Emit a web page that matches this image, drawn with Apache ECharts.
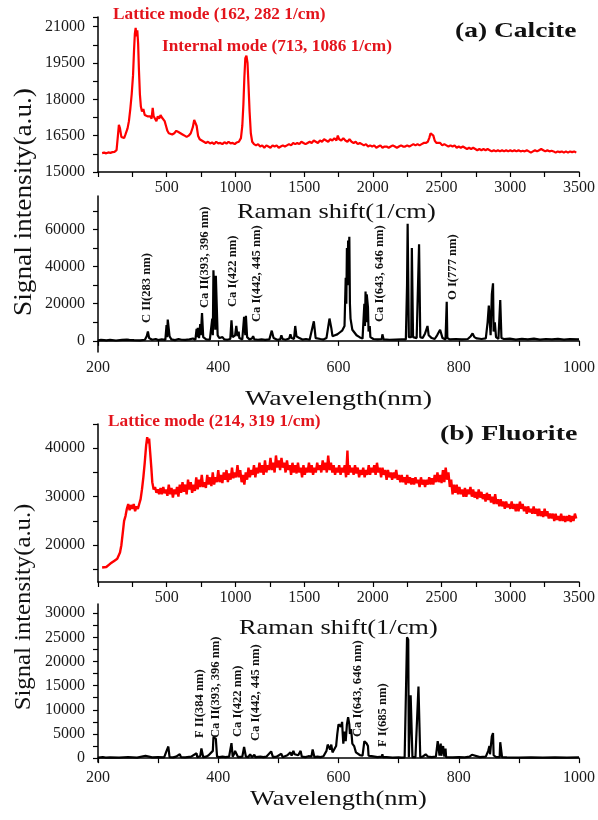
<!DOCTYPE html>
<html><head><meta charset="utf-8">
<script src="https://cdn.jsdelivr.net/npm/echarts@6/dist/echarts.min.js"></script>
<style>html,body{margin:0;padding:0;background:#fff}#c{width:598px;height:820px}</style>
</head><body><div id="c"></div>
<script>
// ---- Data ----
const calciteRaman = [[30,15780],[45,15800],[60,15770],[75,15810],[90,15790],[105,15820],[120,15830],[135,15900],[145,16500],[152,16950],[160,16800],[170,16450],[180,16500],[190,16400],[200,16550],[215,16800],[225,17100],[235,17600],[245,18200],[255,19000],[262,20000],[268,20700],[274,20950],[280,20600],[286,20850],[292,20300],[298,19200],[305,18200],[312,17700],[320,17500],[330,17600],[340,17350],[350,17400],[360,17300],[370,17250],[380,17300],[390,17200],[398,17650],[405,17300],[415,17250],[425,17100],[435,17300],[445,17200],[455,17350],[465,17250],[475,17300],[485,17100],[495,16900],[505,16700],[515,16600],[525,16650],[540,16550],[555,16600],[570,16700],[585,16650],[600,16600],[615,16550],[630,16500],[645,16450],[660,16500],[675,16600],[690,16850],[700,17150],[710,17200],[718,16900],[728,16500],[740,16350],[755,16300],[770,16250],[785,16200],[800,16250],[815,16180],[830,16220],[845,16150],[860,16250],[875,16180],[890,16200],[905,16150],[920,16230],[935,16170],[950,16250],[965,16180],[980,16200],[995,16150],[1010,16220],[1025,16250],[1040,16400],[1050,16900],[1058,17800],[1065,18900],[1072,19700],[1080,19800],[1088,19500],[1095,18600],[1103,17500],[1112,16600],[1122,16250],[1135,16150],[1150,16100],[1165,16150],[1180,16050],[1195,16100],[1210,16000],[1225,16100],[1240,16050],[1255,16000],[1270,16100],[1285,16050],[1300,16100],[1315,16000],[1330,16050],[1345,16100],[1360,16050],[1375,16100],[1390,16150],[1405,16100],[1420,16200],[1435,16150],[1450,16200],[1465,16150],[1480,16250],[1495,16200],[1510,16150],[1525,16200],[1540,16250],[1555,16200],[1570,16300],[1585,16250],[1600,16200],[1615,16300],[1630,16250],[1645,16350],[1660,16300],[1675,16250],[1690,16350],[1705,16300],[1720,16400],[1735,16300],[1745,16500],[1755,16350],[1770,16300],[1785,16400],[1800,16300],[1815,16250],[1830,16350],[1845,16250],[1860,16200],[1875,16250],[1890,16150],[1905,16200],[1920,16150],[1935,16100],[1950,16150],[1965,16050],[1980,16100],[1995,16050],[2010,16100],[2025,16000],[2040,16050],[2055,16100],[2070,16000],[2085,16050],[2100,16050],[2115,16000],[2130,16050],[2145,16100],[2160,16050],[2175,16000],[2190,16050],[2205,16100],[2220,16050],[2235,16050],[2250,16100],[2265,16050],[2280,16100],[2295,16150],[2310,16100],[2325,16150],[2340,16100],[2355,16150],[2370,16200],[2385,16200],[2400,16250],[2410,16400],[2420,16600],[2430,16650],[2440,16500],[2450,16300],[2462,16200],[2475,16150],[2490,16200],[2505,16100],[2520,16150],[2535,16100],[2550,16050],[2565,16100],[2580,16050],[2595,16100],[2610,16000],[2625,16050],[2640,16000],[2655,16050],[2670,16000],[2685,15950],[2700,16000],[2715,15950],[2730,16000],[2745,15950],[2760,15900],[2775,15950],[2790,15900],[2805,15950],[2820,15900],[2835,15950],[2850,15900],[2865,15850],[2880,15900],[2895,15850],[2910,15900],[2925,15850],[2940,15900],[2955,15850],[2970,15900],[2985,15850],[3000,15900],[3015,15850],[3030,15900],[3045,15850],[3060,15900],[3075,15850],[3090,15880],[3105,15850],[3120,15900],[3135,15850],[3150,15800],[3165,15850],[3180,15900],[3195,15850],[3210,15900],[3225,15950],[3240,15900],[3255,15850],[3270,15900],[3285,15850],[3300,15880],[3315,15850],[3330,15800],[3345,15850],[3360,15820],[3375,15850],[3390,15800],[3405,15850],[3420,15800],[3435,15850],[3450,15820],[3465,15850],[3480,15800]];

const calciteLibs = [[200,300],[205,500],[210,400],[212,1000],[214,300],[220,500],[230,200],[240,500],[248,700],[250,1000],[252,500],[260,400],[270,300],[278,600],[281,2500],[283,5000],[285,1500],[288,2000],[290,600],[296,1000],[298,1500],[300,400],[306,800],[312,500],[314,8500],[315,2000],[316,11500],[317,12000],[319,2500],[322,800],[328,400],[334,1000],[337,2000],[339,600],[345,500],[352,800],[358,1300],[362,600],[364,6500],[365,2000],[366,7000],[368,1500],[370,9000],[371,3000],[373,15000],[374,14500],[375,2000],[380,800],[386,700],[390,12000],[391,3000],[392,38000],[394,37000],[395,6000],[396,35000],[398,34500],[399,3000],[402,1500],[405,2500],[407,2000],[410,800],[415,600],[420,1000],[422,11000],[423,10500],[424,2000],[428,3000],[430,8000],[431,7500],[432,2500],[434,5000],[435,1500],[440,800],[443,13000],[444,12500],[445,3000],[446,13500],[448,2000],[452,800],[456,1300],[458,2500],[460,800],[466,600],[472,800],[478,500],[485,800],[489,5500],[490,5000],[492,1500],[498,600],[503,800],[505,3000],[507,1000],[512,600],[518,1300],[520,3500],[522,1500],[526,1000],[528,8000],[530,2500],[533,3500],[535,1500],[537,2000],[540,700],[546,1000],[552,600],[553,1500],[555,500],[559,10500],[560,11000],[562,1500],[565,800],[570,1000],[575,700],[580,1500],[585,12000],[586,11000],[588,7000],[590,2500],[594,3000],[598,3500],[602,4500],[606,5500],[610,8000],[612,34000],[613,20000],[614,50000],[615,30000],[616,54000],[617,40000],[618,56000],[619,20000],[620,12000],[623,6000],[626,5000],[630,3000],[635,2000],[640,1200],[643,20000],[644,8000],[645,26500],[646,10000],[647,25000],[649,18000],[650,5000],[652,8000],[653,2000],[658,1000],[665,800],[672,1000],[673,3500],[675,800],[685,600],[695,700],[705,800],[712,800],[714,30000],[715,63000],[716,64000],[717,2000],[721,2000],[722,50000],[723,51000],[724,2000],[730,1500],[734,52000],[735,53000],[736,2000],[740,1500],[744,4000],[746,6000],[748,8000],[750,3000],[755,1500],[760,1000],[764,3000],[766,2000],[769,6000],[771,5500],[773,1500],[778,800],[780,21000],[781,1500],[785,800],[795,1000],[805,800],[815,1000],[820,2500],[823,4000],[826,2000],[830,1300],[838,1000],[845,1300],[848,10000],[850,19000],[852,18000],[853,3000],[855,25000],[857,31000],[858,5000],[860,10000],[862,2000],[866,1000],[869,22000],[870,22500],[871,1500],[875,1000],[885,1200],[895,700],[905,1100],[915,800],[925,1200],[935,700],[945,1000],[955,800],[965,1100],[975,700],[985,900],[1000,800]];

const fluoriteRaman = [[30,15400],[60,15500],[90,16200],[120,16800],[140,17200],[160,18500],[170,20000],[180,22500],[190,25000],[200,26000],[210,27500],[220,28500],[230,27200],[240,28300],[250,27500],[260,28500],[270,27000],[280,28000],[290,27500],[300,28500],[310,29500],[320,31500],[330,34000],[340,37000],[350,40500],[358,42300],[365,41000],[372,42000],[380,39000],[388,36000],[395,33000],[405,31500],[415,32000],[425,30800],[435,31500],[445,30500],[455,31800],[465,30500],[475,32000],[485,30700],[495,31500],[505,30200],[515,32500],[525,30500],[535,31800],[545,29800],[555,31500],[565,30500],[575,32000],[585,30000],[595,32500],[605,30800],[615,33000],[625,31000],[635,32500],[645,30500],[655,33500],[665,31500],[675,33000],[685,30800],[695,32500],[705,31200],[715,34000],[725,31500],[735,33500],[745,32000],[755,34500],[765,32000],[775,33000],[785,31800],[795,34500],[805,32500],[815,34000],[825,32200],[835,35000],[845,32500],[855,34000],[865,33000],[875,35500],[885,33000],[895,34500],[905,32800],[915,35000],[925,33500],[935,35500],[945,33000],[955,34800],[965,33500],[975,36000],[985,33800],[995,35000],[1005,34000],[1015,36500],[1025,34000],[1035,35500],[1045,33000],[1055,34500],[1065,32500],[1075,35000],[1085,33500],[1095,36000],[1105,34000],[1115,35500],[1125,34500],[1135,36500],[1145,34000],[1155,36000],[1165,34800],[1175,37000],[1185,35000],[1195,36500],[1205,34500],[1215,37500],[1225,35000],[1235,36500],[1245,35500],[1255,38000],[1265,35500],[1275,37000],[1285,35000],[1295,38500],[1305,36000],[1315,37500],[1325,35500],[1335,38000],[1345,36000],[1355,37000],[1365,35000],[1375,37500],[1385,35500],[1395,36500],[1405,34500],[1415,37000],[1425,35000],[1435,36500],[1445,34800],[1455,37000],[1465,35000],[1475,36000],[1485,34000],[1495,36500],[1505,34500],[1515,36000],[1525,35000],[1535,37000],[1545,35000],[1555,36500],[1565,34500],[1575,36000],[1585,35000],[1595,37000],[1605,35500],[1615,36500],[1625,35000],[1635,37500],[1645,35500],[1655,37000],[1665,35000],[1675,38500],[1685,35500],[1695,37000],[1705,35000],[1715,36500],[1725,34500],[1735,36000],[1745,35000],[1755,36500],[1765,34500],[1775,36000],[1785,35000],[1795,36500],[1805,34000],[1815,39500],[1822,34500],[1830,36500],[1840,35000],[1850,36000],[1860,34500],[1870,36500],[1880,34800],[1890,36000],[1900,34000],[1910,35500],[1920,34500],[1930,36000],[1940,34000],[1950,35500],[1960,34500],[1970,36500],[1980,34500],[1990,36000],[2000,35000],[2010,36500],[2020,34500],[2030,37000],[2040,35000],[2050,36000],[2060,34000],[2070,36000],[2080,34500],[2090,35500],[2100,33500],[2110,35500],[2120,34000],[2130,35000],[2140,33500],[2150,35000],[2160,33800],[2170,35500],[2180,33500],[2190,34500],[2200,33000],[2210,34500],[2220,33000],[2230,34000],[2240,32500],[2250,34500],[2260,32800],[2270,34000],[2280,32500],[2290,33800],[2300,32500],[2310,34000],[2320,32800],[2330,33500],[2340,32000],[2350,34000],[2360,32500],[2370,33500],[2380,32000],[2390,33500],[2400,32500],[2410,34000],[2420,32500],[2430,33800],[2440,32500],[2450,34500],[2460,33000],[2470,35000],[2480,33000],[2490,34500],[2500,32800],[2510,35500],[2520,33000],[2530,36000],[2540,33500],[2550,35000],[2560,32000],[2570,33500],[2580,30500],[2590,32500],[2600,30800],[2610,32500],[2620,30500],[2630,32000],[2640,30500],[2650,31500],[2660,30000],[2670,31800],[2680,30000],[2690,31500],[2700,30500],[2710,32000],[2720,30000],[2730,31500],[2740,29800],[2750,31000],[2760,29500],[2770,31500],[2780,29800],[2790,31000],[2800,29500],[2810,30500],[2820,29000],[2830,30800],[2840,29300],[2850,30500],[2860,28800],[2870,30000],[2880,28500],[2890,30500],[2900,28500],[2910,29500],[2920,28000],[2930,29500],[2940,28000],[2950,29000],[2960,27500],[2970,29000],[2980,27800],[2990,28500],[3000,27500],[3010,29000],[3020,27500],[3030,28500],[3040,27000],[3050,28500],[3060,27000],[3070,29000],[3080,27500],[3090,28500],[3100,27000],[3110,28000],[3120,26500],[3130,28000],[3140,26800],[3150,27500],[3160,26500],[3170,28000],[3180,26500],[3190,27500],[3200,26000],[3210,27500],[3220,26000],[3230,27000],[3240,25800],[3250,27500],[3260,26000],[3270,27000],[3280,25500],[3290,26500],[3300,25500],[3310,26500],[3320,25000],[3330,26500],[3340,25200],[3350,26000],[3360,25000],[3370,26500],[3380,25000],[3390,26000],[3400,24800],[3410,26000],[3420,25000],[3430,26200],[3440,24800],[3450,26000],[3460,25000],[3470,26500],[3480,25500]];

const fluoriteLibs = [[200,100],[208,200],[211,600],[213,100],[220,150],[235,100],[250,200],[265,100],[279,500],[281,100],[290,150],[300,200],[310,150],[315,1800],[317,2400],[318,2000],[319,200],[325,150],[330,300],[336,800],[338,200],[345,150],[355,300],[364,1000],[365,200],[370,400],[372,2000],[374,1800],[375,200],[380,300],[384,600],[386,200],[391,1500],[392,4300],[394,4200],[396,4000],[397,3800],[398,300],[402,200],[405,600],[407,300],[410,500],[412,200],[418,300],[422,3100],[423,2800],[424,300],[427,1000],[428,1500],[431,1400],[433,200],[440,300],[443,2300],[445,2500],[446,300],[450,200],[453,800],[455,600],[456,200],[460,700],[462,200],[470,300],[475,200],[480,300],[488,1400],[490,1200],[491,200],[497,300],[505,900],[507,200],[515,600],[518,1000],[520,1200],[522,500],[525,1500],[527,800],[530,1200],[533,600],[537,1500],[539,300],[545,200],[550,400],[553,800],[555,300],[557,1800],[559,1500],[560,200],[565,300],[570,200],[575,400],[580,1500],[582,2800],[584,2600],[586,1800],[588,2800],[590,1200],[593,1000],[596,2500],[598,5000],[600,7000],[602,7200],[604,6500],[606,7500],[607,5000],[608,3000],[610,5500],[612,3500],[614,7000],[616,8500],[618,7000],[619,5000],[621,6000],[623,3000],[626,2500],[629,1200],[632,900],[636,600],[640,500],[643,3500],[645,3800],[647,3000],[649,2500],[650,500],[655,400],[660,300],[665,200],[672,300],[673,800],[674,200],[680,200],[690,100],[700,150],[705,100],[710,150],[713,200],[714,25000],[716,24500],[717,200],[719,200],[720,13000],[722,12800],[723,200],[728,200],[733,14800],[735,15000],[736,200],[740,300],[745,800],[747,1000],[749,300],[755,200],[762,300],[765,3500],[767,3800],[768,500],[770,3000],[771,500],[774,2500],[776,300],[778,2000],[779,200],[790,150],[800,200],[810,150],[818,300],[822,700],[825,300],[835,200],[845,300],[849,1500],[851,2500],[852,800],[855,4500],[857,5200],[858,600],[862,200],[868,200],[869,3300],[871,3000],[872,200],[880,150],[900,100],[920,150],[940,100],[960,150],[980,100],[1000,150]];

const calciteLibsTicks = [0,10000,20000,30000,40000,50000,60000,70000];
const calciteLibsLabels = [0,20000,40000,60000];
const fluoriteRamanTicks = [15000,20000,25000,30000,35000,40000,45000];
const fluoriteRamanLabels = [20000,30000,40000];
const fluoriteLibsTicks = [0,2500,5000,7500,10000,12500,15000,17500,20000,22500,25000,27500,30000];
const fluoriteLibsLabels = [0,5000,10000,15000,20000,25000,30000];

const calciteLines = [
  ['C II(283 nm)', 147, 323],
  ['Ca II(393, 396 nm)', 205, 308],
  ['Ca I(422 nm)', 233, 307],
  ['Ca I(442, 445 nm)', 257, 322],
  ['Ca I(643, 646 nm)', 380, 322],
  ['O I(777 nm)', 453, 300]
];
const fluoriteLines = [
  ['F II(384 nm)', 200, 738],
  ['Ca II(393, 396 nm)', 216, 738],
  ['Ca I(422 nm)', 238, 737],
  ['Ca I(442, 445 nm)', 256, 741],
  ['Ca I(643, 646 nm)', 358, 737],
  ['F I(685 nm)', 383, 747]
];

// ---- Chart ----
const FONT = 'Liberation Serif';
const RED = '#e3141c';
const chart = echarts.init(document.getElementById('c'), null, {renderer: 'canvas'});

const axisLine = {show: true, lineStyle: {color: '#000', width: 1.5}};
const tick = {show: true, inside: false, length: 5, lineStyle: {color: '#000', width: 1.2}};
const lbl = {color: '#1a1a1a', fontFamily: FONT, fontSize: 16};
const fmt = v => String(v);

function xRaman(i) {
  return {type: 'value', gridIndex: i, min: 0, max: 3500, interval: 500,
    axisLine, axisTick: tick, minorTick: {show: true, splitNumber: 2, length: 5, lineStyle: {color: '#000', width: 1.2}},
    axisLabel: Object.assign({}, lbl, {showMinLabel: false, margin: 8, formatter: fmt}),
    splitLine: {show: false}, minorSplitLine: {show: false}};
}
function xLibs(i) {
  return {type: 'value', gridIndex: i, min: 200, max: 1000, interval: 200,
    axisLine, axisTick: tick, minorTick: {show: true, splitNumber: 2, length: 5, lineStyle: {color: '#000', width: 1.2}},
    axisLabel: Object.assign({}, lbl, {margin: 8, formatter: fmt}),
    splitLine: {show: false}, minorSplitLine: {show: false}};
}
function yCustom(i, min, max, ticks, labels) {
  return {type: 'value', gridIndex: i, min, max,
    axisLine, axisTick: Object.assign({}, tick, {customValues: ticks}),
    axisLabel: Object.assign({}, lbl, {margin: 13, customValues: labels, formatter: fmt}),
    splitLine: {show: false}};
}

const graphics = [];
function txt(s, x, y, size, opts) {
  opts = opts || {};
  graphics.push({type: 'text', x, y, rotation: opts.rot || 0, scaleX: opts.sx || 1,
    style: {text: s, fontFamily: FONT, fontSize: size, fontWeight: opts.bold ? 'bold' : 'normal',
      fill: opts.color || '#111', align: opts.align || 'left', verticalAlign: 'middle'}, z: 100});
}
txt('Lattice mode (162, 282 1/cm)', 113, 15, 16, {bold: true, color: RED, sx: 1.08});
txt('Internal mode (713, 1086 1/cm)', 162, 47, 16, {bold: true, color: RED, sx: 1.08});
txt('(a) Calcite', 455, 31, 22, {bold: true, sx: 1.25});
txt('Lattice mode (214, 319 1/cm)', 108, 422, 16, {bold: true, color: RED, sx: 1.08});
txt('(b) Fluorite', 440, 434, 22, {bold: true, sx: 1.27});
txt('Raman shift(1/cm)', 237, 212, 22, {sx: 1.2});
txt('Raman shift(1/cm)', 239, 628, 22, {sx: 1.2});
txt('Wavelength(nm)', 245, 399, 22, {sx: 1.27});
txt('Wavelength(nm)', 250, 799, 22, {sx: 1.2});
txt('Signal intensity(a.u.)', 24, 202, 25, {rot: Math.PI / 2, align: 'center', sx: 1.09});
txt('Signal intensity(a.u.)', 24, 607, 24, {rot: Math.PI / 2, align: 'center', sx: 1.03});
calciteLines.concat(fluoriteLines).forEach(([s, x, y]) => txt(s, x, y, 12, {rot: Math.PI / 2, bold: true, sx: 1.05}));

function line(i, data, color, w) {
  return {type: 'line', xAxisIndex: i, yAxisIndex: i, data, showSymbol: false, symbol: 'none',
    lineStyle: {color, width: w}, z: 3};
}

chart.setOption({
  animation: false,
  backgroundColor: '#fff',
  grid: [
    {left: 98, top: 17, width: 482, height: 155},
    {left: 98, top: 196, width: 482, height: 156},
    {left: 98, top: 424, width: 482, height: 158},
    {left: 98, top: 604, width: 482, height: 158}
  ],
  xAxis: [xRaman(0), xLibs(1), xRaman(2), xLibs(3)],
  yAxis: [
    {type: 'value', gridIndex: 0, min: 15000, max: 21400, interval: 1500,
      axisLine, axisTick: tick, minorTick: {show: true, splitNumber: 2, length: 5, lineStyle: {color: '#000', width: 1.2}},
      axisLabel: Object.assign({}, lbl, {margin: 13, formatter: fmt}), splitLine: {show: false}, minorSplitLine: {show: false}},
    yCustom(1, -6000, 78000, calciteLibsTicks, calciteLibsLabels),
    yCustom(2, 12400, 45000, fluoriteRamanTicks, fluoriteRamanLabels),
    yCustom(3, -800, 31900, fluoriteLibsTicks, fluoriteLibsLabels)
  ],
  series: [
    line(0, calciteRaman, '#ff0000', 2.2),
    line(1, calciteLibs, '#000', 2.2),
    line(2, fluoriteRaman, '#ff0000', 2.4),
    line(3, fluoriteLibs, '#000', 2.2)
  ],
  graphic: graphics
});
</script></body></html>
